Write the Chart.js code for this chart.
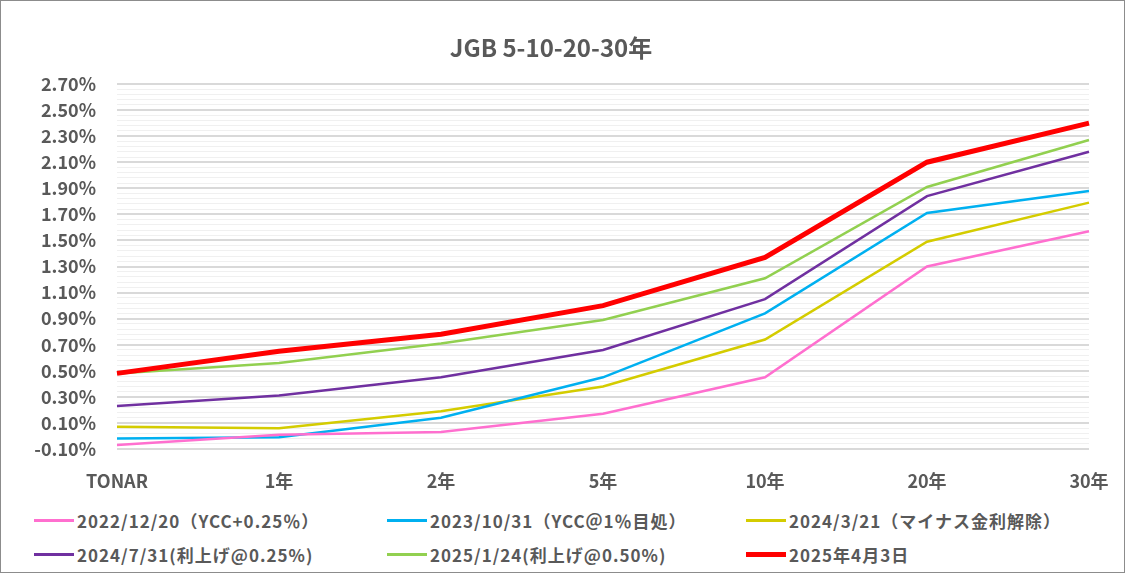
<!DOCTYPE html>
<html>
<head>
<meta charset="utf-8">
<script src="https://cdn.jsdelivr.net/npm/chart.js@4/dist/chart.umd.min.js"></script>
<style>
  html, body { margin: 0; padding: 0; background: #fff; }
  #frame { position: relative; width: 1125px; height: 573px; box-sizing: border-box; border: 1px solid #8c8c8c; overflow: hidden; }
  #wrap { position: absolute; left: 0; top: 0; width: 1125px; height: 500px; }
  #legend { position: absolute; left: 0; top: 500px; width: 1125px; height: 73px; }
  .lg { position: absolute; display: flex; align-items: center; font: bold 17px "Noto Sans CJK JP", "Noto Sans", sans-serif; letter-spacing: 1px; color: #595959; white-space: nowrap; }
  .lg i { display: inline-block; width: 40px; margin-right: 3px; }
</style>
</head>
<body>
<div id="frame">
  <div id="wrap"><canvas id="c"></canvas></div>
  <div id="legend"></div>
</div>
<script>
// 年限
const categories = ['TONAR', '1年', '2年', '5年', '10年', '20年', '30年'];

// 利回り(%)
const y20221220 = [-0.07, 0.01, 0.03, 0.17, 0.45, 1.30, 1.57];
const y20231031 = [-0.02, -0.01, 0.14, 0.45, 0.94, 1.71, 1.88];
const y20240321 = [0.07, 0.06, 0.19, 0.38, 0.74, 1.49, 1.79];
const y20240731 = [0.23, 0.31, 0.45, 0.66, 1.05, 1.84, 2.18];
const y20250124 = [0.48, 0.56, 0.71, 0.89, 1.21, 1.91, 2.27];
const y20250403 = [0.48, 0.65, 0.78, 1.00, 1.37, 2.10, 2.40];

const seriesNames = [
  '2022/12/20（YCC+0.25％）',
  '2023/10/31（YCC＠1％目処）',
  '2024/3/21（マイナス金利解除）',
  '2024/7/31(利上げ@0.25%)',
  '2025/1/24(利上げ@0.50%)',
  '2025年4月3日'
];

const yMin = -0.10, yMax = 2.70;

const TXT = '#595959';
const FONT = '"Noto Sans CJK JP", "Noto Sans", sans-serif';

function isMajor(v) { return Math.round((v - yMin) * 100) % 20 === 0; }

function ds(label, data, color, width, order) {
  return { label, data, borderColor: color, backgroundColor: color, borderWidth: width,
    pointRadius: 0, pointHoverRadius: 0, tension: 0, fill: false, order };
}

// タイトルはプロット中心ではなく少し左寄せなので自前で描く
const titlePlugin = {
  id: 'jgbTitle',
  afterDraw(chart) {
    const c = chart.ctx;
    c.save();
    c.font = 'bold 24px ' + FONT;
    c.fillStyle = TXT;
    c.textAlign = 'center';
    c.textBaseline = 'middle';
    c.fillText('JGB 5-10-20-30年', 550, 47);
    c.restore();
  }
};

const chart = new Chart(document.getElementById('c'), {
  type: 'line',
  data: {
    labels: categories,
    datasets: [
      ds(seriesNames[0], y20221220, '#FF6FCF', 2.5, 1),
      ds(seriesNames[1], y20231031, '#00B0F0', 2.5, 1),
      ds(seriesNames[2], y20240321, '#D4CC00', 2.5, 1),
      ds(seriesNames[3], y20240731, '#7030A0', 2.5, 1),
      ds(seriesNames[4], y20250124, '#92D050', 2.5, 1),
      ds(seriesNames[5], y20250403, '#FF0000', 5, 0)
    ]
  },
  options: {
    responsive: true, maintainAspectRatio: false, animation: false,
    layout: { padding: { top: 83, right: 37, left: 0, bottom: 0 } },
    plugins: { legend: { display: false }, title: { display: false }, tooltip: { enabled: false } },
    scales: {
      x: {
        offset: false,
        grid: { display: false },
        border: { display: false },
        ticks: { color: TXT, font: { family: FONT, size: 18, weight: 'bold' }, padding: 13, maxRotation: 0, autoSkip: false },
        afterFit: s => { s.height = 52; }
      },
      y: {
        min: yMin, max: yMax,
        border: { display: false },
        grid: {
          drawTicks: false,
          color: ctx => isMajor(ctx.tick.value) ? '#D9D9D9' : '#F0F0F0',
          lineWidth: ctx => isMajor(ctx.tick.value) ? 2 : 1
        },
        ticks: {
          stepSize: 0.04, autoSkip: false, padding: 21,
          color: TXT, font: { family: FONT, size: 18, weight: 'bold' },
          callback: v => isMajor(v) ? v.toFixed(2) + '%' : ''
        },
        afterFit: s => { s.width = 116; }
      }
    }
  },
  plugins: [titlePlugin]
});

// 凡例 (3列×2行)
const cols = [33, 386, 745];
const rows = [19, 53];
const leg = document.getElementById('legend');
chart.data.datasets.forEach((d, i) => {
  const el = document.createElement('div');
  el.className = 'lg';
  el.style.left = cols[i % 3] + 'px';
  el.style.top = (rows[Math.floor(i / 3)] - 12) + 'px';
  el.style.height = '24px';
  const ln = document.createElement('i');
  ln.style.height = (i === 5 ? 5 : 3) + 'px';
  ln.style.background = d.borderColor;
  el.appendChild(ln);
  el.appendChild(document.createTextNode(d.label));
  leg.appendChild(el);
});
</script>
</body>
</html>
